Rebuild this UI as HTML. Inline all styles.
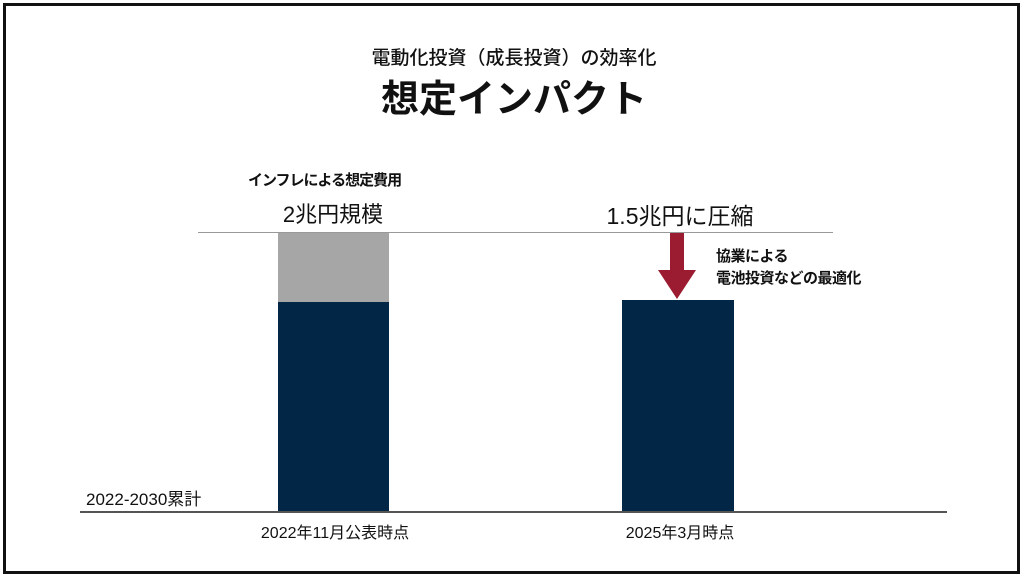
<!DOCTYPE html>
<html><head><meta charset="utf-8"><style>
html,body{margin:0;padding:0;background:#fff;}
body{width:1024px;height:580px;position:relative;overflow:hidden;font-family:"Liberation Sans","Noto Sans CJK JP",sans-serif;color:#111;}
.frame{position:absolute;left:3px;top:3px;width:1011px;height:565px;border:3px solid #111;}
.t{position:absolute;white-space:nowrap;}
.c{transform:translateX(-50%);}
</style></head><body>
<div class="frame"></div>
<div class="t c" style="left:514px;top:43px;font-size:19px;font-weight:500;">電動化投資（成長投資）の効率化</div>
<div class="t c" style="left:514px;top:68px;font-size:38px;font-weight:bold;">想定インパクト</div>
<div class="t" style="left:248px;top:169px;font-size:15px;font-weight:bold;letter-spacing:-1px;">インフレによる想定費用</div>
<div class="t c" style="left:333px;top:197px;font-size:22px;">2兆円規模</div>
<div class="t c" style="left:680px;top:197px;font-size:23px;">1.5兆円に圧縮</div>
<div class="t" style="left:716px;top:246px;font-size:15px;font-weight:bold;line-height:22px;letter-spacing:-0.5px;">協業による<br>電池投資などの最適化</div>
<div style="position:absolute;left:198px;top:232px;width:635px;height:1px;background:#999;"></div>
<div style="position:absolute;left:278px;top:233px;width:111px;height:69px;background:#a6a6a6;"></div>
<div style="position:absolute;left:278px;top:302px;width:111px;height:210px;background:#022645;"></div>
<div style="position:absolute;left:622px;top:300px;width:112px;height:212px;background:#022645;"></div>
<svg style="position:absolute;left:0;top:0" width="1024" height="580"><polygon points="670,233 684,233 684,270 696,270 677,299 658,270 670,270" fill="#9b1b30"/></svg>
<div style="position:absolute;left:80px;top:511px;width:867px;height:2px;background:#555;"></div>
<div class="t" style="left:86px;top:485px;font-size:17px;">2022-2030累計</div>
<div class="t c" style="left:335px;top:519px;font-size:16px;">2022年11月公表時点</div>
<div class="t c" style="left:680px;top:519px;font-size:16px;">2025年3月時点</div>
</body></html>
